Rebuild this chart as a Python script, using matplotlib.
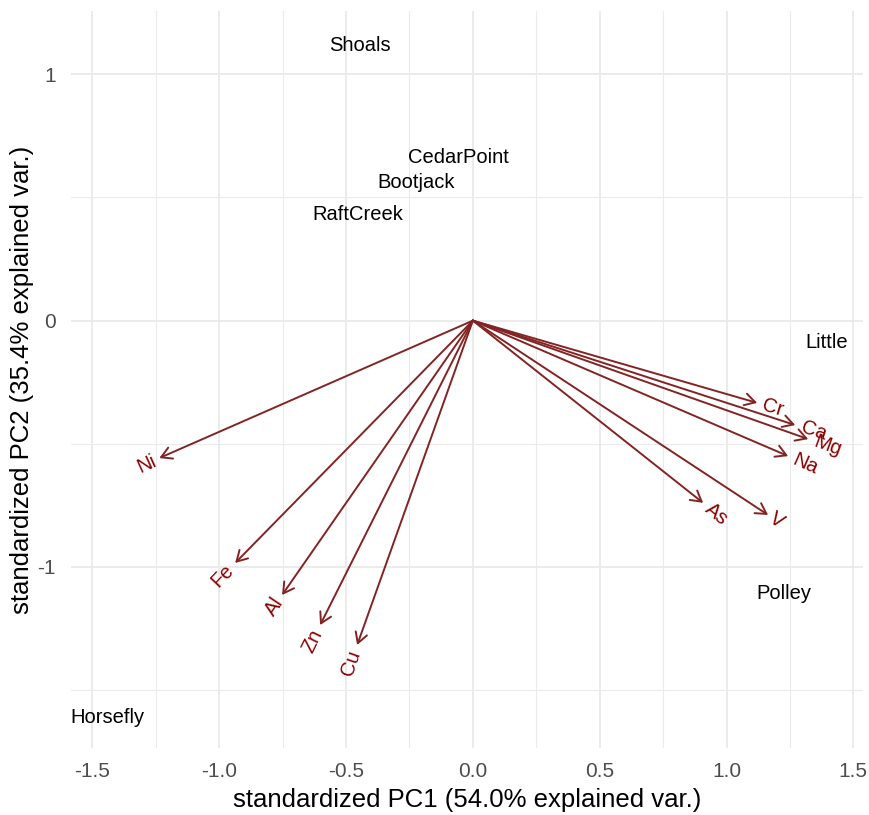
import numpy as np
import matplotlib
matplotlib.use("Agg")
import matplotlib.pyplot as plt
from matplotlib.patches import FancyArrowPatch, ArrowStyle
from matplotlib import transforms
from matplotlib.font_manager import FontProperties

plt.rcParams['font.family'] = ['Liberation Sans', 'DejaVu Sans']

# Sample scores (standardized PC1, PC2)
sites = ['Shoals', 'CedarPoint', 'Bootjack', 'RaftCreek', 'Little', 'Polley', 'Horsefly']
site_pc1 = [-0.445, -0.056, -0.224, -0.452, 1.395, 1.226, -1.442]
site_pc2 = [1.115, 0.661, 0.559, 0.429, -0.090, -1.106, -1.612]

# Variable loadings (arrow tips)
variables = ['Ni', 'Fe', 'Al', 'Zn', 'Cu', 'Cr', 'Ca', 'Mg', 'Na', 'As', 'V']
var_pc1 = [-1.236, -0.937, -0.752, -0.602, -0.456, 1.121, 1.271, 1.322, 1.243, 0.908, 1.164]
var_pc2 = [-0.558, -0.984, -1.114, -1.236, -1.317, -0.334, -0.424, -0.481, -0.550, -0.740, -0.789]

x_ticks = [-1.5, -1.0, -0.5, 0.0, 0.5, 1.0, 1.5]
x_tick_labels = ['-1.5', '-1.0', '-0.5', '0.0', '0.5', '1.0', '1.5']
y_ticks = [-1, 0, 1]
y_tick_labels = ['-1', '0', '1']

W, H = 869, 815
DPI = 100
fig = plt.figure(figsize=(W / DPI, H / DPI), dpi=DPI)
fig.patch.set_facecolor('white')
ax = fig.add_axes([71 / W, 1 - 748 / H, (863 - 71) / W, (748 - 11) / H])
ax.set_xlim(-1.584, 1.538)
ax.set_ylim(-1.735, 1.257)

for s in ax.spines.values():
    s.set_visible(False)

# grid
grid_c = '#EBEBEB'
for xv in [-1.25, -0.75, -0.25, 0.25, 0.75, 1.25]:
    ax.axvline(xv, color=grid_c, lw=0.8, zorder=0)
for yv in [-1.5, -0.5, 0.5]:
    ax.axhline(yv, color=grid_c, lw=0.8, zorder=0)
for xv in x_ticks:
    ax.axvline(xv, color=grid_c, lw=1.4, zorder=0)
for yv in y_ticks:
    ax.axhline(yv, color=grid_c, lw=1.4, zorder=0)

ax.set_xticks(x_ticks)
ax.set_xticklabels(x_tick_labels)
ax.set_yticks(y_ticks)
ax.set_yticklabels(y_tick_labels)
ax.tick_params(axis='both', length=0, labelsize=15, labelcolor='#4D4D4D')
ax.tick_params(axis='x', pad=10)
ax.tick_params(axis='y', pad=11)

arrow_c = '#832424'
label_c = '#8B0000'
for name, xv, yv in zip(variables, var_pc1, var_pc2):
    arr = FancyArrowPatch((0, 0), (xv, yv),
                          arrowstyle=ArrowStyle('->', head_length=7.5, head_width=4.3),
                          mutation_scale=1, shrinkA=0, shrinkB=0,
                          color=arrow_c, lw=1.4, zorder=3)
    ax.add_patch(arr)

renderer = fig.canvas.get_renderer()
fsize = 14.5
fp = FontProperties(family=['Liberation Sans', 'DejaVu Sans'], size=fsize)
for name, xv, yv in zip(variables, var_pc1, var_pc2):
    ang = np.degrees(np.arctan(yv / xv))
    w, h, d = renderer.get_text_width_height_descent(name, fp, ismath=False)
    c, s = np.cos(np.radians(ang)), np.sin(np.radians(ang))
    if xv > 0:
        ha = 'left'
        dx, dy = 0.25 * w * c, 0.25 * w * s
    else:
        ha = 'right'
        dx, dy = -0.25 * w * c, -0.25 * w * s
    tr = transforms.offset_copy(ax.transData, fig=fig, x=dx, y=dy, units='dots')
    ax.text(xv, yv, name, transform=tr, rotation=ang, rotation_mode='anchor',
            ha=ha, va='center', color=label_c, fontproperties=fp, zorder=4)

for name, xv, yv in zip(sites, site_pc1, site_pc2):
    ax.text(xv, yv, name, ha='center', va='center', color='black',
            fontsize=fsize, zorder=4)

fig.text((71 + 863) / 2 / W, 1 - 800 / H, 'standardized PC1 (54.0% explained var.)',
         ha='center', va='center', fontsize=18.5, color='black')
fig.text(22 / W, 1 - 379.5 / H, 'standardized PC2 (35.4% explained var.)',
         ha='center', va='center', rotation=90, fontsize=18.5, color='black')

fig.savefig('out.png', dpi=DPI, facecolor='white')
